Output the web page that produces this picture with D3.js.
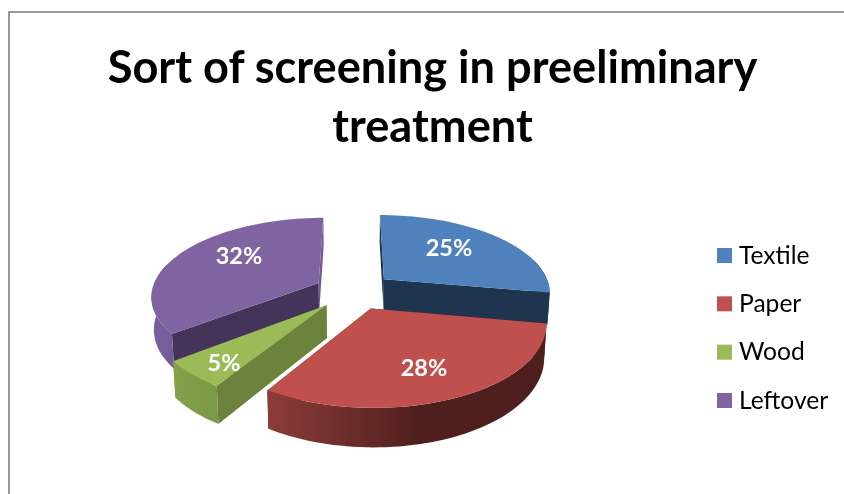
<!DOCTYPE html>
<html><head><meta charset="utf-8">
<script src="https://cdnjs.cloudflare.com/ajax/libs/d3/7.8.5/d3.min.js"></script>
<style>html,body{margin:0;padding:0;background:#fff}svg{display:block;filter:blur(.4px)}text{font-family:Lato,"Noto Sans",sans-serif}</style>
</head><body><svg id="c" width="844" height="494"></svg>
<script>
const categories = ["Textile","Paper","Wood","Leftover"];
const values = [25,28,5,32];
const titleLines = ["Sort of screening in preeliminary","treatment"];
const topColors = ["#4f81bd","#c0504d","#9bbb59","#8064a2"];
const faceColors = ["#1f344f","#4f1f1d","#6d823c","#45345a"];
const rimLight = ["#1f344f","#8c3c39","#84a24c","#7a60a0"];
const rimDark = ["#1f344f","#4f1f1d","#7a9845","#735a98"];

const svg = d3.select("#c");
svg.append("path").attr("d","M9 494V12H844").attr("fill","none").attr("stroke","#9a9a9a").attr("stroke-width",2);

const title = svg.append("text").attr("text-anchor","middle").attr("font-weight",700).attr("font-size",45.2).attr("fill","#000");
titleLines.forEach((t,i)=>title.append("tspan").attr("x",432.5).attr("y",83+i*58.5).text(t));

// perspective pie
const cx=354, cy=291, R=167, tilt=.465, k=.156, depth=32, explode=40, converge=.012;
const pie = d3.pie().sort(null).value(d=>d)(values);
function project(a0,rad,off,z){
  const X = off*Math.sin(a0[0]) + rad*Math.sin(a0[1]);
  const Y = -off*Math.cos(a0[0]) - rad*Math.cos(a0[1]);
  const s = 1/(1-k*Y/R);
  return [cx+X*s*(1-converge*z/depth), cy+Y*tilt*s+z*s];
}
const line = d3.line();
const defs = svg.append("defs");
const order=[3,0,2,1];
order.forEach(i=>{
  const p=pie[i], mid=(p.startAngle+p.endAngle)/2;
  const n=60, angs=d3.range(n+1).map(j=>p.startAngle+(p.endAngle-p.startAngle)*j/n);
  const apex=z=>project([mid,0],0,explode,z);
  const edge=(a,z)=>project([mid,a],R,explode,z);
  const g=svg.append("g");
  // radial walls
  const wall=a=>[apex(0),edge(a,0),edge(a,depth),apex(depth)];
  g.append("path").attr("d",line(wall(p.endAngle))+"Z").attr("fill",i===3?rimDark[3]:faceColors[i]);
  g.append("path").attr("d",line(wall(p.startAngle))+"Z").attr("fill",faceColors[i]);
  // outer rim
  const vis=angs.filter(a=>Math.cos(a)<0.3);
  const rim=vis.map(a=>edge(a,0)).concat(vis.slice().reverse().map(a=>edge(a,depth)));
  if(rim.length){
    const xs=rim.map(d=>d[0]), id="g"+i;
    const gr=defs.append("linearGradient").attr("id",id).attr("gradientUnits","userSpaceOnUse")
      .attr("x1",d3.min(xs)).attr("x2",d3.max(xs)).attr("y1",0).attr("y2",0);
    gr.append("stop").attr("offset","0").attr("stop-color",rimLight[i]);
    gr.append("stop").attr("offset",i===1?"0.55":"1").attr("stop-color",rimDark[i]);
    g.append("path").attr("d",line(rim)+"Z").attr("fill",`url(#${id})`);
  }
  // top face
  const top=[apex(0)].concat(angs.map(a=>edge(a,0)));
  g.append("path").attr("d",line(top)+"Z").attr("fill",topColors[i]);
});

// data labels
const pct=d3.format(".0f");
const labelAnchors=[[449,248],[424,368],[224,363],[239,256]];
values.forEach((v,i)=>{
  svg.append("text").attr("x",labelAnchors[i][0]).attr("y",labelAnchors[i][1]+8).attr("text-anchor","middle")
    .attr("font-weight",700).attr("font-size",23.5).attr("fill","#fff").text(pct(v)+"%");
});

// legend
const ly=d3.scalePoint().domain(categories).range([255.5,400.5]);
categories.forEach((c,i)=>{
  svg.append("rect").attr("x",717).attr("y",ly(c)-7.5).attr("width",15).attr("height",15).attr("fill",topColors[i]);
  svg.append("text").attr("x",739).attr("y",ly(c)+8).attr("font-size",24.6).attr("fill","#000").text(c);
});
</script></body></html>
